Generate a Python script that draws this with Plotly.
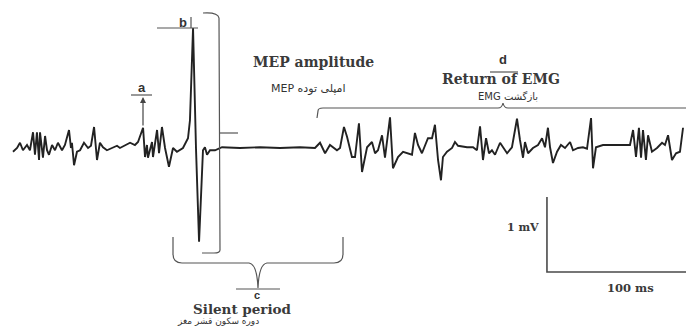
import plotly.graph_objects as go

# EMG trace: time (ms) and voltage (mV)
time_ms = [0, 2.9, 5.0, 7.1, 10.0, 12.1, 14.3, 15.7, 17.1, 18.6, 19.3, 21.4, 22.9, 24.3, 25.7,
           27.9, 30.0, 32.1, 35.0, 37.1, 40.0, 41.4, 42.1, 43.6, 45.7, 47.9, 50.7, 53.6, 55.7,
           57.9, 60.0, 62.1, 64.3, 67.1, 70.7, 74.3, 76.4,
           80.0, 83.6, 87.1, 89.3, 92.9, 94.3, 95.7, 96.4, 99.3, 100.0, 102.9, 104.3, 106.4,
           108.6, 111.4, 114.3, 117.1, 121.4, 125.0,
           126.4, 128.6, 130.7, 132.9, 134.3, 135.7, 137.1, 138.6, 140.7, 144.3, 149.3,
           162.1, 176.4, 190.7, 205.0, 215.7, 219.3, 222.9, 226.4, 231.4, 233.6,
           236.4, 238.6, 242.1, 244.3, 247.1, 249.3, 252.9, 256.4, 258.6, 260.7, 263.6, 265.7,
           269.3, 271.4, 275.0, 278.6, 282.1, 285.0, 287.1, 289.3, 292.1, 296.4, 299.3, 301.4,
           303.6, 305.7, 307.1, 310.0, 313.6, 315.7, 317.9, 324.3, 328.6, 331.4, 333.6, 335.7,
           337.9, 340.0, 342.1, 344.3, 347.9, 350.0, 352.9, 356.4, 360.0, 362.1, 364.3, 365.7,
           367.9, 371.4, 375.0, 377.9, 380.0, 382.1, 383.6, 385.7, 388.6, 391.4, 394.3, 397.9,
           400.0, 403.6, 407.1, 410.0, 412.9, 414.3, 416.4, 421.4, 440.7, 442.9, 445.0, 447.1,
           448.6, 450.0, 452.1, 453.6, 456.4, 460.0, 463.6, 465.7, 467.9, 470.7, 473.6, 476.4,
           478.6]
emg_mV = [-0.05, 0, 0.07, -0.03, 0.04, -0.03, 0.21, -0.09, 0.21, -0.16, 0.21, -0.13, 0.16, -0.03, -0.09,
          0.04, -0.03, 0.07, -0.03, 0.04, 0.24, 0, 0.07, -0.23, -0.05, -0.03, 0.07, 0, 0.03,
          0.28, -0.16, 0.07, 0.01, -0.03, 0, 0.03, 0,
          0.04, 0.07, 0.04, 0.08, 0.27, -0.12, 0.04, -0.13, 0.08, -0.12, 0.24, -0.07, 0.28,
          0, -0.25, 0, -0.05, 0, 0.13,
          0.37, 1.6, 0, -1.25, -0.6, -0.03, 0.01, -0.09, -0.03, -0.03, 0.01,
          0, 0.01, 0, 0.01, 0, 0.07, -0.07, 0.04, -0.03, 0,
          0.28, 0.15, -0.12, -0.12, 0.33, -0.32, 0.01, 0.08, -0.07, -0.03, 0.17, -0.13,
          0.41, -0.27, -0.12, -0.05, -0.07, -0.09, 0.2, 0.04, -0.07, 0.13, 0.13, 0.31,
          -0.16, -0.43, -0.12, -0.05, 0, 0.08, 0.03, 0.01, 0.01, -0.03, 0.29, -0.16,
          0.13, -0.07, -0.03, -0.09, 0.07, 0.01, -0.07, 0.01, 0.39, 0.11, -0.13, 0.08,
          -0.07, 0, 0.04, 0.13, 0.01, 0.27, 0.01, -0.2, -0.05, 0.04, 0, 0.08,
          -0.03, 0, 0.01, -0.01, 0.4, -0.27, 0.01, 0.04, 0.04, 0.24, -0.12, 0.27,
          -0.13, 0.24, -0.16, 0.17, -0.05, 0, 0.07, 0.04, 0.17, -0.16, -0.07, -0.05,
          0.27]

# Scale bar
scale_ms = 100
scale_mV = 1
scale_origin_ms = 381.4
scale_origin_mV = -1.653

# Labels
label_mep = "MEP amplitude"
label_mep_fa = "MEP امپلی توده"
label_return = "Return of EMG"
label_return_fa = "EMG بازگشت"
label_silent = "Silent period"
label_silent_fa = "دوره سکون قشر مغز"
label_mv = "1 mV"
label_ms = "100 ms"

W, H = 686, 328


def px(x):
    return x / W


def py(y):
    return 1 - y / H


fig = go.Figure()
fig.add_trace(go.Scatter(x=time_ms, y=emg_mV, mode="lines",
                         line=dict(color="#222222", width=1.9), hoverinfo="skip"))

# scale bar (data coordinates)
fig.add_trace(go.Scatter(
    x=[scale_origin_ms, scale_origin_ms, scale_origin_ms + scale_ms],
    y=[scale_origin_mV + scale_mV, scale_origin_mV, scale_origin_mV],
    mode="lines", line=dict(color="#4a4a4a", width=1.6), hoverinfo="skip"))

shape_line = dict(color="#555555", width=1.2)


def pth(d):
    return dict(type="path", xref="paper", yref="paper", path=d, line=shape_line)


def P(points):
    out = []
    for cmd, pts in points:
        s = cmd + " " + " ".join(f"{px(a):.5f},{py(b):.5f}" for a, b in pts)
        out.append(s)
    return " ".join(out)


shapes = []
# a marker
shapes.append(pth(P([("M", [(131, 95)]), ("L", [(152, 95)])])))
# b marker
shapes.append(pth(P([("M", [(157, 28)]), ("L", [(198, 28)])])))
shapes.append(pth(P([("M", [(191, 17)]), ("L", [(191, 28)])])))
# MEP amplitude bracket
shapes.append(pth(P([("M", [(203, 13)]), ("Q", [(218, 12), (219, 18)]), ("L", [(220, 250)]),
                     ("Q", [(220, 253), (214, 253)]), ("L", [(202, 253)])])))
shapes.append(pth(P([("M", [(220, 133)]), ("L", [(238, 133)])])))
# Silent period brace
shapes.append(pth(P([("M", [(173, 237)]), ("L", [(173, 254)]), ("Q", [(173, 263), (182, 263)]),
                     ("L", [(249, 263)]), ("Q", [(257, 264), (258, 288)]),
                     ("Q", [(259, 264), (267, 263)]), ("L", [(334, 263)]),
                     ("Q", [(343, 263), (343, 254)]), ("L", [(343, 237)])])))
shapes.append(pth(P([("M", [(236, 289)]), ("L", [(280, 289)])])))
# Return of EMG bracket
shapes.append(pth(P([("M", [(317, 118)]), ("L", [(318, 111)]), ("Q", [(318, 108), (323, 108)]),
                     ("L", [(498, 108)]), ("Q", [(502, 108), (503, 103)]),
                     ("Q", [(504, 108), (508, 108)]), ("L", [(686, 108)])])))
shapes.append(pth(P([("M", [(490, 72)]), ("L", [(518, 72)])])))

serif = dict(family="DejaVu Serif", color="#3a3a3a")
sans = dict(family="Liberation Sans", color="#333333")
fa = dict(family="DejaVu Sans", color="#333333")


def txt(t, x, y, font, size, bold=False):
    f = dict(font)
    f["size"] = size
    if bold:
        t = "<b>" + t + "</b>"
    return dict(text=t, x=px(x), y=py(y), xref="paper", yref="paper", showarrow=False,
                xanchor="center", yanchor="middle", font=f)


annotations = [
    txt("a", 142, 87, sans, 13, True),
    txt("b", 183, 22, sans, 13, True),
    txt("c", 257, 295, sans, 11, True),
    txt("d", 503, 60, sans, 13, True),
    txt(label_mep, 313, 62, serif, 14, True),
    txt(label_mep_fa, 308, 88, fa, 11),
    txt(label_return, 501, 79, serif, 14, True),
    txt(label_return_fa, 508, 96, fa, 10),
    txt(label_silent, 242, 309, serif, 13.5, True),
    txt(label_silent_fa, 218, 321, fa, 9),
    txt(label_mv, 523, 228, serif, 11, True),
    txt(label_ms, 630, 288, serif, 11.5, True),
    dict(x=px(143), y=py(97), xref="paper", yref="paper", ax=0, ay=30, axref="pixel",
         ayref="pixel", showarrow=True, arrowhead=2, arrowsize=1, arrowwidth=1.2,
         arrowcolor="#444444", text=""),
]

fig.update_layout(
    width=W, height=H, margin=dict(l=0, r=0, t=0, b=0),
    paper_bgcolor="white", plot_bgcolor="white", showlegend=False,
    xaxis=dict(range=[-13 / 1.4, (W - 13) / 1.4], visible=False, fixedrange=True),
    yaxis=dict(range=[(148 - H) / 75, 148 / 75], visible=False, fixedrange=True),
    shapes=shapes, annotations=annotations,
)

fig.write_html("out.html", config=dict(displayModeBar=False),
               post_script="document.body.style.margin='0';document.body.style.overflow='hidden';")
